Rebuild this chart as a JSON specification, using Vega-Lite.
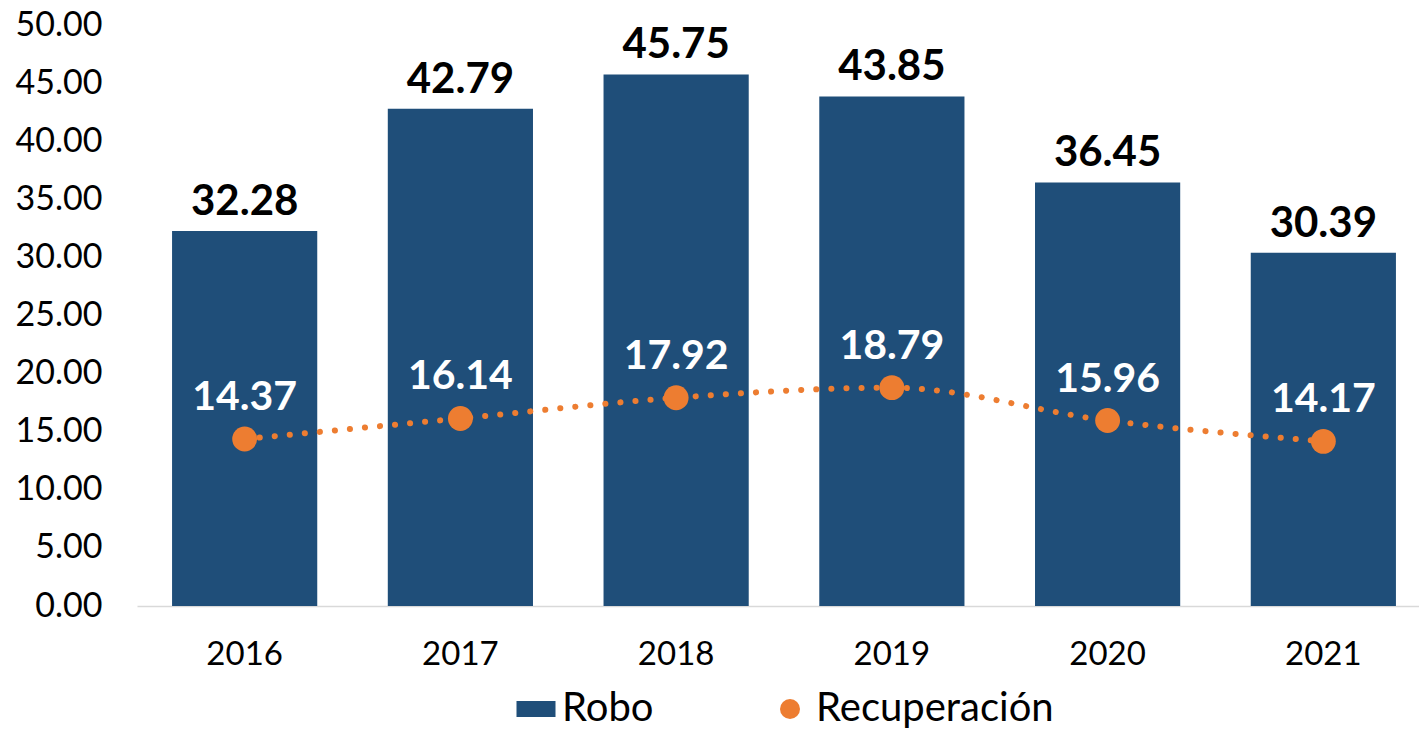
{
  "$schema": "https://vega.github.io/schema/vega-lite/v6.json",
  "autosize": {"type": "none"},
  "padding": {"left": 137, "top": 25, "right": 0, "bottom": 123},
  "width": 1282,
  "height": 581,
  "background": "white",
  "config": {"view": {"stroke": null}, "font": "Lato"},
  "data": {
    "values": [
      {"year": "2016", "serie": "Robo", "value": 32.28},
      {"year": "2017", "serie": "Robo", "value": 42.79},
      {"year": "2018", "serie": "Robo", "value": 45.75},
      {"year": "2019", "serie": "Robo", "value": 43.85},
      {"year": "2020", "serie": "Robo", "value": 36.45},
      {"year": "2021", "serie": "Robo", "value": 30.39},
      {"year": "2016", "serie": "Recuperación", "value": 14.37},
      {"year": "2017", "serie": "Recuperación", "value": 16.14},
      {"year": "2018", "serie": "Recuperación", "value": 17.92},
      {"year": "2019", "serie": "Recuperación", "value": 18.79},
      {"year": "2020", "serie": "Recuperación", "value": 15.96},
      {"year": "2021", "serie": "Recuperación", "value": 14.17}
    ]
  },
  "encoding": {
    "x": {
      "field": "year", "type": "nominal", "title": null,
      "scale": {"paddingInner": 0.327, "paddingOuter": 0.1625, "range": [0, 1294]},
      "axis": {
        "labelAngle": 0, "labelFont": "Lato", "labelFontSize": 33, "labelColor": "#000000",
        "ticks": false, "tickSize": 0, "labelPadding": 32,
        "domainColor": "#D9D9D9", "domainWidth": 1.5, "grid": false
      }
    },
    "y": {
      "field": "value", "type": "quantitative", "title": null,
      "scale": {"domain": [0, 50], "nice": false},
      "axis": {
        "values": [0, 5, 10, 15, 20, 25, 30, 35, 40, 45, 50],
        "format": ".2f", "labelFont": "Lato", "labelFontSize": 34, "labelColor": "#000000",
        "ticks": false, "tickSize": 0, "labelPadding": 35, "domain": false, "grid": false
      }
    }
  },
  "layer": [
    {
      "transform": [{"filter": "datum.serie === 'Robo'"}],
      "mark": {"type": "bar"},
      "encoding": {
        "color": {
          "field": "serie", "type": "nominal",
          "scale": {"domain": ["Robo", "Recuperación"], "range": ["#1F4E79", "#ED7D31"]},
          "legend": {
            "title": null, "orient": "none", "direction": "horizontal",
            "legendX": 379, "legendY": 664,
            "labelFont": "Lato", "labelFontSize": 40, "labelColor": "#000000", "labelLimit": 500,
            "symbolSize": 400, "symbolStrokeWidth": 0, "symbolOpacity": 1,
            "columnPadding": 116, "labelOffset": 6
          }
        }
      }
    },
    {
      "transform": [{"filter": "datum.serie === 'Robo'"}],
      "mark": {"type": "text", "fontWeight": "bold", "fontSize": 42, "color": "#000000", "baseline": "alphabetic", "dy": -16, "font": "Lato"},
      "encoding": {"text": {"field": "value", "type": "quantitative", "format": ".2f"}}
    },
    {
      "transform": [{"filter": "datum.serie === 'Recuperación'"}],
      "mark": {"type": "line", "color": "#ED7D31", "strokeWidth": 6, "strokeCap": "round", "strokeDash": [0.1, 15], "interpolate": "monotone"},
      "encoding": {}
    },
    {
      "transform": [{"filter": "datum.serie === 'Recuperación'"}],
      "mark": {"type": "point", "filled": true, "opacity": 1, "size": 620},
      "encoding": {
        "color": {"field": "serie", "type": "nominal"},
        "shape": {
          "field": "serie", "type": "nominal",
          "scale": {"domain": ["Robo", "Recuperación"], "range": ["M-1.95,-0.8H1.95V0.8H-1.95Z", "circle"]}
        }
      }
    },
    {
      "transform": [{"filter": "datum.serie === 'Recuperación'"}],
      "mark": {"type": "text", "fontWeight": "bold", "fontSize": 41, "color": "#FFFFFF", "baseline": "alphabetic", "dy": -29, "font": "Lato"},
      "encoding": {"text": {"field": "value", "type": "quantitative", "format": ".2f"}}
    }
  ]
}
